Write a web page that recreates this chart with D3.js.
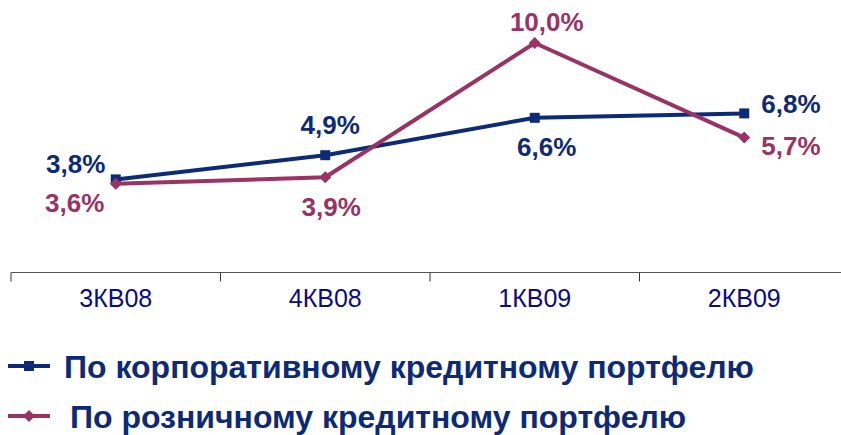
<!DOCTYPE html>
<html>
<head>
<meta charset="utf-8">
<script src="https://cdn.jsdelivr.net/npm/d3@7/dist/d3.min.js"></script>
<style>
  body { margin: 0; background: #fff; }
  svg { display: block; font-family: Arial, "Liberation Sans", sans-serif; }
</style>
</head>
<body>
<div id="chart"></div>
<script>
// quarters and values (%)
var quarters = ['3КВ08', '4КВ08', '1КВ09', '2КВ09'];
var corporate = [3.8, 4.9, 6.6, 6.8];
var retail = [3.6, 3.9, 10.0, 5.7];
var seriesNames = ['По корпоративному кредитному портфелю', 'По розничному кредитному портфелю'];

var W = 841, H = 435;
var navy = '#0c2a76', plum = '#9b3264', axisText = '#0a0a88';
var axisY = 272.5;

var svg = d3.select('#chart').append('svg')
  .attr('width', W).attr('height', H);

var x = d3.scaleBand().domain(quarters).range([11, 849]);
var y = d3.scaleLinear().domain([0, 10]).range([263, 43]);

function cx(d, i) { return x(quarters[i]) + x.bandwidth() / 2; }

// category axis, ticks between categories
var axis = svg.append('g');
axis.append('line')
  .attr('x1', x.range()[0]).attr('x2', x.range()[1])
  .attr('y1', axisY).attr('y2', axisY)
  .attr('stroke', '#555').attr('stroke-width', 1.2);
var edges = quarters.map(function(q) { return x(q); }).concat([x.range()[1]]);
axis.selectAll('.tk').data(edges).enter().append('line')
  .attr('x1', function(d) { return d; }).attr('x2', function(d) { return d; })
  .attr('y1', axisY).attr('y2', axisY + 9)
  .attr('stroke', '#333').attr('stroke-width', 1);
axis.selectAll('.lbl').data(quarters).enter().append('text')
  .attr('x', function(d) { return x(d) + x.bandwidth() / 2; })
  .attr('y', 307)
  .attr('text-anchor', 'middle')
  .attr('font-size', 25)
  .attr('fill', axisText)
  .text(function(d) { return d; });

var line = d3.line().x(cx).y(function(d) { return y(d); });

// label offsets relative to the points: [dx, dy, anchor]
var corpOff = [[-40, -6, 'middle'], [5, -21, 'middle'], [12, 38, 'middle'], [17, 0, 'start']];
var retOff = [[-41, 28, 'middle'], [6, 39, 'middle'], [12, -12, 'middle'], [17, 17, 'start']];

function fmt(v) { return v.toFixed(1).replace('.', ',') + '%'; }

function drawSeries(data, color, off, marker) {
  var g = svg.append('g');
  g.append('path').datum(data)
    .attr('d', line)
    .attr('fill', 'none')
    .attr('stroke', color)
    .attr('stroke-width', 4)
    .attr('stroke-linejoin', 'round');
  g.selectAll('.m').data(data).enter().append('path')
    .attr('transform', function(d, i) { return 'translate(' + cx(d, i) + ',' + y(d) + ')'; })
    .attr('d', marker)
    .attr('fill', color);
  g.selectAll('.v').data(data).enter().append('text')
    .attr('x', function(d, i) { return cx(d, i) + off[i][0]; })
    .attr('y', function(d) { return y(d); })
    .attr('dy', function(d, i) { return off[i][1]; })
    .attr('text-anchor', function(d, i) { return off[i][2]; })
    .attr('font-size', 26)
    .attr('font-weight', 'bold')
    .attr('fill', color)
    .text(fmt);
}

var square = 'M-5,-5H5V5H-5Z';
var diamond = 'M0,-6L6,0L0,6L-6,0Z';

drawSeries(corporate, navy, corpOff, square);
drawSeries(retail, plum, retOff, diamond);

// legend
var legend = [
  { name: seriesNames[0], color: navy, marker: square, y: 366, tx: 64 },
  { name: seriesNames[1], color: plum, marker: diamond, y: 416, tx: 70 }
];
var lg = svg.selectAll('.lg').data(legend).enter().append('g');
lg.append('line')
  .attr('x1', 8).attr('x2', 50)
  .attr('y1', function(d) { return d.y; }).attr('y2', function(d) { return d.y; })
  .attr('stroke', function(d) { return d.color; })
  .attr('stroke-width', 4);
lg.append('path')
  .attr('transform', function(d) { return 'translate(29,' + d.y + ')'; })
  .attr('d', function(d) { return d.marker; })
  .attr('fill', function(d) { return d.color; });
lg.append('text')
  .attr('x', function(d) { return d.tx; })
  .attr('y', function(d) { return d.y + 12; })
  .attr('font-size', 32)
  .attr('font-weight', 'bold')
  .attr('fill', navy)
  .text(function(d) { return d.name; });
</script>
</body>
</html>
